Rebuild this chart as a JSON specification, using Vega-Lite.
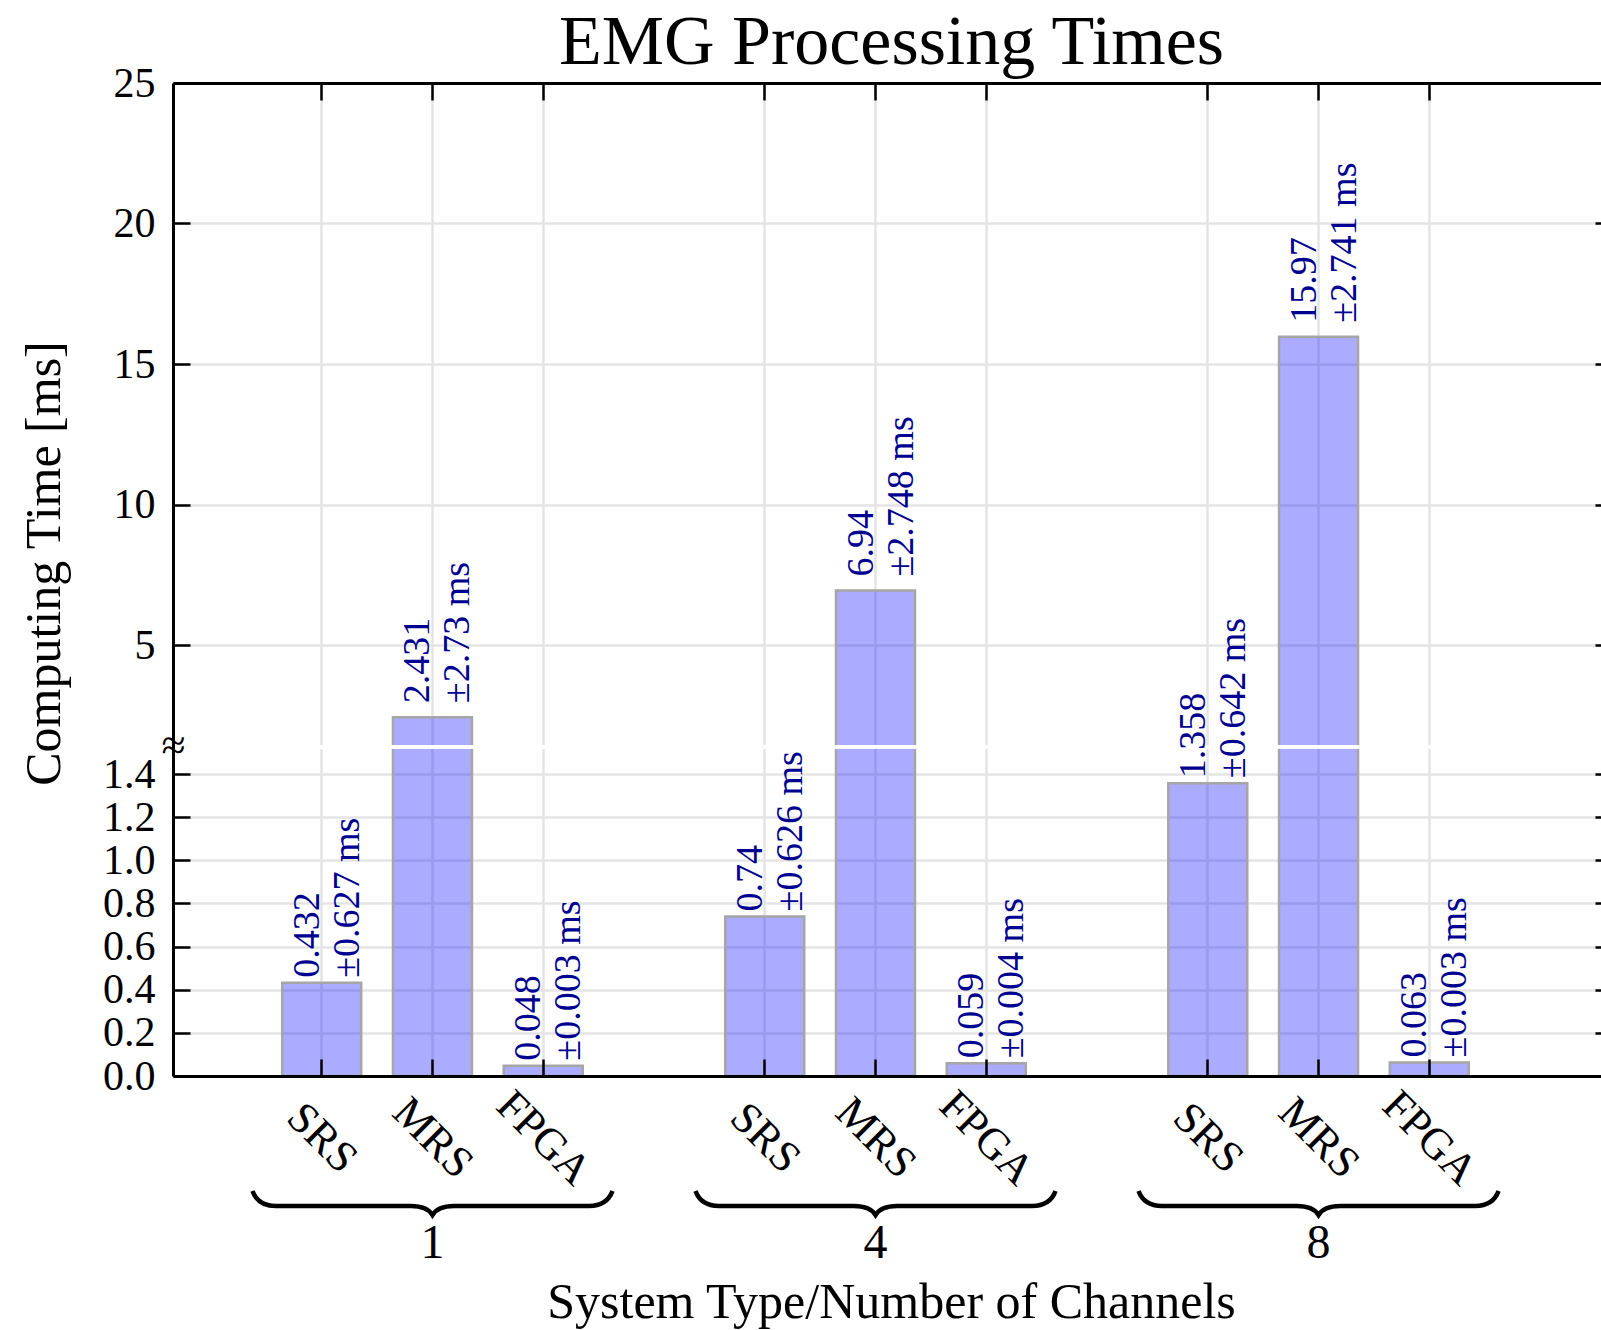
{
  "$schema": "https://vega.github.io/schema/vega-lite/v6.json",
  "width": 1428,
  "height": 993,
  "autosize": {"type": "none"},
  "padding": {"left": 173, "top": 83, "right": 0, "bottom": 254},
  "background": "white",
  "config": {"view": {"stroke": null}, "font": "Liberation Serif", "axis": {"labelFont": "Liberation Serif", "titleFont": "Liberation Serif"}},
  "data": {"values": [
    {"channels": "1", "system": "SRS", "key": "1-SRS", "mean": 0.432, "sd": 0.627},
    {"channels": "1", "system": "MRS", "key": "1-MRS", "mean": 2.431, "sd": 2.73},
    {"channels": "1", "system": "FPGA", "key": "1-FPGA", "mean": 0.048, "sd": 0.003},
    {"channels": "4", "system": "SRS", "key": "4-SRS", "mean": 0.74, "sd": 0.626},
    {"channels": "4", "system": "MRS", "key": "4-MRS", "mean": 6.94, "sd": 2.748},
    {"channels": "4", "system": "FPGA", "key": "4-FPGA", "mean": 0.059, "sd": 0.004},
    {"channels": "8", "system": "SRS", "key": "8-SRS", "mean": 1.358, "sd": 0.642},
    {"channels": "8", "system": "MRS", "key": "8-MRS", "mean": 15.97, "sd": 2.741},
    {"channels": "8", "system": "FPGA", "key": "8-FPGA", "mean": 0.063, "sd": 0.003}
  ]},
  "transform": [{"calculate": "'±' + datum.sd + ' ms'", "as": "sdLabel"}],
  "resolve": {"axis": {"x": "independent", "y": "independent"}},
  "layer": [
    {
      "mark": {"type": "bar", "fill": "#0000ff", "fillOpacity": 0.33, "stroke": "#a6a6a6", "strokeWidth": 2.5},
      "encoding": {
        "x": {"field": "key", "type": "nominal",
          "scale": {"type": "band", "domain": ["1-SRS", "1-MRS", "1-FPGA", "g1", "4-SRS", "4-MRS", "4-FPGA", "g2", "8-SRS", "8-MRS", "8-FPGA", "g3"], "range": [0, 1439], "paddingInner": 0.2867, "paddingOuter": 0.6394, "align": 0.771, "round": false},
          "axis": {"orient": "bottom", "values": ["1-SRS", "1-MRS", "1-FPGA", "4-SRS", "4-MRS", "4-FPGA", "8-SRS", "8-MRS", "8-FPGA"], "bandPosition": 0.5, "grid": true, "gridColor": "#e4e4e4", "gridWidth": 2.5, "ticks": false, "tickSize": 0, "domain": false, "labelExpr": "split(datum.value, '-')[1]", "labelAngle": 45, "labelAlign": "center", "labelBaseline": "middle", "labelPadding": 62, "labelFontSize": 44, "labelColor": "black", "labelOverlap": false, "labelBound": false, "labelFlush": false, "title": "System Type/Number of Channels", "titleFontSize": 50, "titleFontWeight": "normal", "titleColor": "black", "titleX": 718, "titleY": 241, "titleBaseline": "alphabetic", "titleAlign": "center", "zindex": 0}},
        "y": {"field": "mean", "type": "quantitative",
          "scale": {"type": "linear", "domain": [0, 1.527, 2, 25], "range": [993, 663.7, 646.3, 0], "nice": false, "zero": false},
          "axis": {"orient": "left", "values": [0, 0.2, 0.4, 0.6, 0.8, 1, 1.2, 1.4, 5, 10, 15, 20, 25], "grid": false, "ticks": false, "tickSize": 0, "domain": false, "labelExpr": "datum.value >= 5 ? format(datum.value, 'd') : format(datum.value, '.1f')", "labelPadding": 18, "labelFontSize": 42, "labelColor": "black", "labelBaseline": "middle", "labelOverlap": false, "labelBound": false, "labelFlush": false, "title": "Computing Time [ms]", "titleFontSize": 50, "titleFontWeight": "normal", "titleColor": "black", "titleX": -113.5, "titleY": 480, "titleAngle": 270, "titleBaseline": "alphabetic", "titleAlign": "center", "zindex": 0}}
      }
    },
    {
      "mark": {"type": "rule", "color": "white", "strokeWidth": 3},
      "encoding": {
        "y": {"datum": 1.527, "type": "quantitative",
          "axis": {"orient": "left", "values": [0, 0.2, 0.4, 0.6, 0.8, 1, 1.2, 1.4, 5, 10, 15, 20, 25], "grid": true, "gridColor": "#e4e4e4", "gridWidth": 2.5, "labels": false, "ticks": false, "tickSize": 0, "domain": false, "title": null, "zindex": 0}}
      }
    },
    {
      "transform": [{"filter": "datum.system != 'MRS'"}],
      "mark": {"type": "text", "angle": 270, "align": "left", "baseline": "alphabetic", "dx": 5, "dy": -3, "fontSize": 38, "color": "#000090"},
      "encoding": {
        "x": {"field": "key", "type": "nominal",
          "axis": {"orient": "top", "values": ["1-SRS", "1-MRS", "1-FPGA", "4-SRS", "4-MRS", "4-FPGA", "8-SRS", "8-MRS", "8-FPGA"], "bandPosition": 0.5, "labels": false, "ticks": true, "tickSize": -17, "tickWidth": 2.5, "tickColor": "black", "domain": true, "domainColor": "black", "domainWidth": 3, "grid": false, "title": "EMG Processing Times", "titleFontSize": 70, "titleFontWeight": "normal", "titleColor": "black", "titleX": 718, "titleY": -20, "titleBaseline": "alphabetic", "titleAlign": "center", "titleAngle": 0, "zindex": 1}},
        "y": {"field": "mean", "type": "quantitative",
          "axis": {"orient": "right", "offset": 11, "values": [0, 0.2, 0.4, 0.6, 0.8, 1, 1.2, 1.4, 5, 10, 15, 20, 25], "labels": false, "ticks": true, "tickSize": -17, "tickWidth": 2.5, "tickColor": "black", "domain": true, "domainColor": "black", "domainWidth": 3, "grid": false, "title": null, "zindex": 1}},
        "text": {"field": "mean", "type": "nominal"}
      }
    },
    {
      "transform": [{"filter": "datum.system != 'MRS'"}],
      "mark": {"type": "text", "angle": 270, "align": "left", "baseline": "alphabetic", "dx": 5, "dy": 37, "fontSize": 38, "color": "#000090"},
      "encoding": {
        "x": {"field": "key", "type": "nominal",
          "axis": {"orient": "bottom", "values": ["1-SRS", "1-MRS", "1-FPGA", "4-SRS", "4-MRS", "4-FPGA", "8-SRS", "8-MRS", "8-FPGA"], "bandPosition": 0.5, "labels": false, "ticks": true, "tickSize": -17, "tickWidth": 2.5, "tickColor": "black", "domain": true, "domainColor": "black", "domainWidth": 3, "grid": false, "title": null, "zindex": 1}},
        "y": {"field": "mean", "type": "quantitative",
          "axis": {"orient": "left", "values": [0, 0.2, 0.4, 0.6, 0.8, 1, 1.2, 1.4, 5, 10, 15, 20, 25], "labels": false, "ticks": true, "tickSize": -17, "tickWidth": 2.5, "tickColor": "black", "domain": true, "domainColor": "black", "domainWidth": 3, "grid": false, "title": null, "zindex": 1}},
        "text": {"field": "sdLabel", "type": "nominal"}
      }
    },
    {
      "transform": [{"filter": "datum.system == 'MRS'"}],
      "mark": {"type": "text", "angle": 270, "align": "left", "baseline": "alphabetic", "dx": 14, "dy": -3, "fontSize": 38, "color": "#000090"},
      "encoding": {
        "x": {"field": "key", "type": "nominal", "axis": null},
        "y": {"field": "mean", "type": "quantitative",
          "axis": {"orient": "left", "values": [1.527], "labelExpr": "'≈'", "ticks": false, "tickSize": 0, "domain": false, "grid": false, "labelAlign": "center", "labelBaseline": "middle", "labelPadding": 0, "labelFontSize": 44, "labelColor": "black", "labelOverlap": false, "labelBound": false, "labelFlush": false, "title": null, "zindex": 1}},
        "text": {"field": "mean", "type": "nominal"}
      }
    },
    {
      "transform": [{"filter": "datum.system == 'MRS'"}],
      "mark": {"type": "text", "angle": 270, "align": "left", "baseline": "alphabetic", "dx": 14, "dy": 37, "fontSize": 38, "color": "#000090"},
      "encoding": {
        "x": {"field": "key", "type": "nominal", "axis": null},
        "y": {"field": "mean", "type": "quantitative", "axis": null},
        "text": {"field": "sdLabel", "type": "nominal"}
      }
    },
    {
      "transform": [{"filter": "datum.system == 'MRS'"}],
      "mark": {"type": "point", "shape": "M -1 -0.083 Q -0.97 0 -0.87 0 L -0.12 0 Q -0.03 0 0 0.05 Q 0.03 0 0.12 0 L 0.87 0 Q 0.97 0 1 -0.083", "filled": false, "stroke": "black", "strokeWidth": 4.5, "size": 129600, "opacity": 1, "yOffset": 130},
      "encoding": {
        "x": {"field": "key", "type": "nominal", "axis": null},
        "y": {"datum": 0, "type": "quantitative", "axis": null}
      }
    },
    {
      "transform": [{"filter": "datum.system == 'MRS'"}],
      "mark": {"type": "text", "align": "center", "baseline": "alphabetic", "fontSize": 48, "color": "black", "yOffset": 182},
      "encoding": {
        "x": {"field": "key", "type": "nominal", "axis": null},
        "y": {"datum": 0, "type": "quantitative", "axis": null},
        "text": {"field": "channels", "type": "nominal"}
      }
    }
  ]
}
